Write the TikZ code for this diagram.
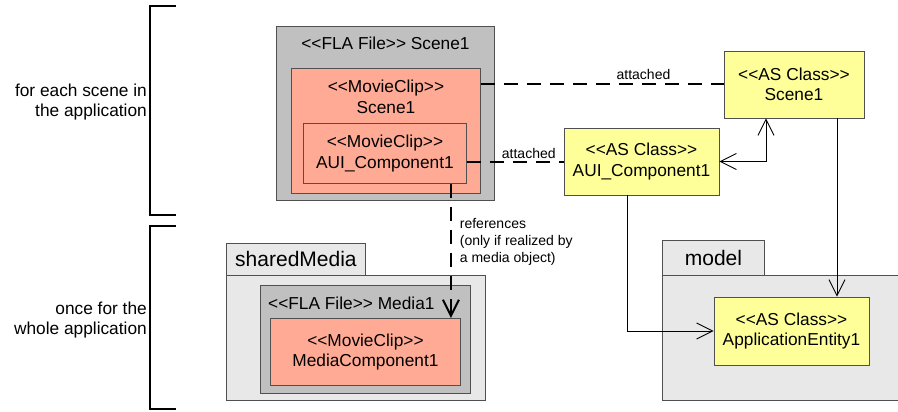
\documentclass[tikz,border=0pt]{standalone}
\usepackage{fontspec}
\setmainfont{Liberation Sans}[Ligatures=TeXOff]
\usetikzlibrary{arrows.meta}
\definecolor{flagray}{HTML}{C0C0C0}
\definecolor{clipred}{HTML}{FFAA95}
\definecolor{asyellow}{HTML}{FFFF99}
\definecolor{pkggray}{HTML}{E8E8E8}
\definecolor{edgegray}{HTML}{505050}

\begin{document}
\begin{tikzpicture}[x=1pt, y=-1pt,
    >={Straight Barb[length=16pt,width=16pt]},
    box/.style={draw=edgegray, line width=0.9pt, anchor=north west, inner sep=0pt,
        align=center, font=\fontsize{17.3}{20.5}\selectfont},
    flabox/.style={box, fill=flagray},
    clipbox/.style={box, fill=clipred},
    pkgbox/.style={box, fill=pkggray},
    tabbox/.style={box, fill=pkggray, font=\fontsize{21}{24}\selectfont},
    asclass/.style={box, fill=asyellow, anchor=center},
    txt/.style={inner sep=0pt, font=\fontsize{17.3}{20.5}\selectfont},
    small/.style={inner sep=0pt, font=\fontsize{14}{17}\selectfont},
    attach/.style={line width=2pt, dash pattern=on 14pt off 9pt},
    assoc/.style={line width=0.9pt},
]
    \useasboundingbox (0,0) rectangle (898,412);
    \clip (0,0) rectangle (898,412);

    % brackets
    \draw[line width=1.2pt] (176,6) -- (150,6) -- (150,215) -- (176,215);
    \draw[line width=1.2pt] (176,226) -- (150,226) -- (150,409) -- (176,409);
    \node[txt, align=right, anchor=east] (scenetxt) at (147,102) {for each scene in\\the application};
    \node[txt, align=right, anchor=east] (apptxt) at (147,320) {once for the\\whole application};

    % packages
    \node[tabbox, minimum width=139, minimum height=32] (sharedtab) at (226,243) {sharedMedia};
    \node[pkgbox, minimum width=259, minimum height=125] (shared) at (226,275) {};
    \node[tabbox, minimum width=102, minimum height=35] (modeltab) at (662,240) {model};
    \node[pkgbox, minimum width=260, minimum height=125] (model) at (662,275) {};

    % FLA files and movie clips
    \node[flabox, minimum width=218, minimum height=174] (flascene) at (276,26) {};
    \node[txt] (flascenetxt) at ([yshift=-17]flascene.north) {<<FLA File>> Scene1};
    \node[clipbox, minimum width=189, minimum height=125] (mcscene) at (291,68) {};
    \node[txt, align=center] (mcscenetxt) at ([yshift=-29]mcscene.north) {<<MovieClip>>\\Scene1};
    \node[clipbox, minimum width=163, minimum height=60] (mcaui) at (303,123) {<<MovieClip>>\\AUI\_Component1};

    \node[flabox, minimum width=210, minimum height=108] (flamedia) at (260,285) {};
    \node[txt, anchor=west] (flamediatxt) at ([xshift=8,yshift=-18]flamedia.north west) {<<FLA File>> Media1};
    \node[clipbox, minimum width=190, minimum height=67] (mcmedia) at (270,318) {<<MovieClip>>\\MediaComponent1};

    % AS classes
    \node[asclass, minimum width=140, minimum height=67] (asscene) at (794,84.5) {<<AS Class>>\\Scene1};
    \node[asclass, minimum width=155, minimum height=67] (asaui) at (641.5,161.5) {<<AS Class>>\\AUI\_Component1};
    \node[asclass, minimum width=155, minimum height=68] (appent) at (791.5,331) {<<AS Class>>\\ApplicationEntity1};

    % attached
    \draw[attach] (asscene.west -| mcscene.east) -- node[small, pos=0.67, above=4pt] (att1) {attached} (asscene.west);
    \draw[attach] (asaui.west -| mcaui.east) -- node[small, pos=0.64, above=2pt] (att2) {attached} (asaui.west);

    % references
    \coordinate (refstart) at ([xshift=-16]mcaui.south east);
    \draw[attach, ->] (refstart) -- node[small, pos=0.43, right=8pt, align=left] (reftxt)
        {references\\(only if realized by\\a media object)} (refstart |- mcmedia.north);

    % associations
    \coordinate (sceneport) at ([xshift=-28]asscene.south);
    \coordinate (entport) at ([xshift=43]asscene.south);
    \coordinate (auiport) at ([xshift=-14]asaui.south);
    \draw[assoc, <->] (asaui.east) -| (sceneport);
    \draw[assoc, ->] (entport) -- (entport |- appent.north);
    \draw[assoc, ->] (auiport) |- (appent.west);
\end{tikzpicture}
\end{document}
